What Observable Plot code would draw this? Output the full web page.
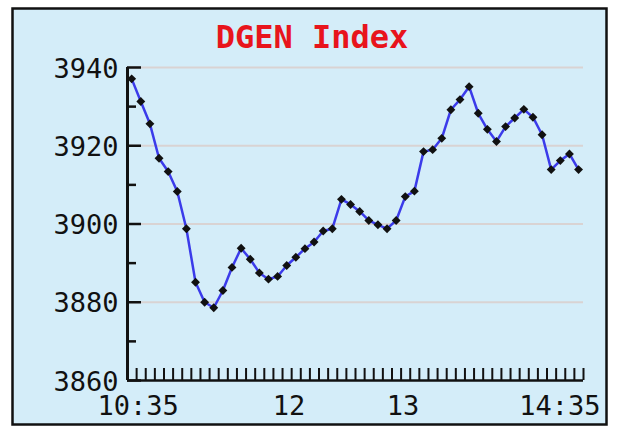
<!DOCTYPE html>
<html><head><meta charset="utf-8">
<script src="https://cdn.jsdelivr.net/npm/d3@7"></script>
<script src="https://cdn.jsdelivr.net/npm/@observablehq/plot@0.6"></script>
<style>body{margin:0;background:#fff}</style>
</head><body><div id="chart"></div>
<script>
const title = "DGEN Index";
const values = [
  3937.1, 3931.3, 3925.6, 3916.8, 3913.4, 3908.3, 3898.8, 3885.1, 3880.0, 3878.6,
  3883.0, 3888.9, 3893.8, 3891.0, 3887.5, 3885.9, 3886.6, 3889.4, 3891.5, 3893.7,
  3895.4, 3898.2, 3898.8, 3906.3, 3905.0, 3903.2, 3900.9, 3899.8, 3898.8, 3900.9,
  3907.0, 3908.4, 3918.5, 3919.0, 3921.9, 3929.2, 3931.8, 3935.1, 3928.3, 3924.2,
  3921.1, 3924.9, 3927.1, 3929.3, 3927.3, 3922.8, 3913.9, 3916.2, 3917.9, 3913.9
];
const firstMinute = 2.2;      // minutes after 10:35 of the first sample
const stepMinutes = 4.8;      // sample spacing
const yMajorTicks = [3860, 3880, 3900, 3920, 3940];
const yMinorTicks = [3870, 3890, 3910, 3930];
const xLabelMinutes = [0, 85, 145, 240];
const xLabels = ["10:35", "12", "13", "14:35"];

const data = values.map((v, i) => ({t: firstMinute + stepMinutes * i, v}));
const xTicks = d3.range(0, 51).map(i => i * stepMinutes);
const labelOf = d => xLabels[xLabelMinutes.indexOf(d)];

const frameMark = () => {
  const r = document.createElementNS("http://www.w3.org/2000/svg", "rect");
  r.setAttribute("x", 12.5); r.setAttribute("y", 8.5);
  r.setAttribute("width", 594); r.setAttribute("height", 416);
  r.setAttribute("fill", "#d4edf9"); r.setAttribute("stroke", "#111");
  r.setAttribute("stroke-width", 2.5);
  return r;
};

const chart = Plot.plot({
  width: 620, height: 435,
  marginLeft: 127, marginRight: 37, marginTop: 67, marginBottom: 55,
  x: {domain: [0, 240], axis: null, label: null},
  y: {domain: [3860, 3940], axis: null, label: null},
  style: {fontFamily: "DejaVu Sans Mono", fontSize: "27px", background: "white", color: "#111"},
  marks: [
    frameMark,
    Plot.ruleY(yMajorTicks.slice(1), {stroke: "#d9d3d3", strokeWidth: 2}),
    Plot.line(data, {x: "t", y: "v", stroke: "#3b3bea", strokeWidth: 2.5}),
    Plot.dot(data, {x: "t", y: "v", symbol: "diamond2", r: 4, fill: "#111"}),
    Plot.ruleX([0], {stroke: "#111", strokeWidth: 3}),
    Plot.ruleY([3860], {stroke: "#111", strokeWidth: 2.5}),
    Plot.axisY(yMajorTicks, {anchor: "left", label: null, tickSize: -14, strokeWidth: 2.5, stroke: "#111", fill: "none"}),
    Plot.axisY(yMinorTicks, {anchor: "left", label: null, tickSize: -9, strokeWidth: 2.5, stroke: "#111", fill: "none"}),
    Plot.axisY(yMajorTicks, {anchor: "left", label: null, tickSize: 0, tickPadding: 9, dy: 1.5, fontSize: 27, fill: "#111", tickFormat: d3.format("d")}),
    Plot.axisX(xTicks, {anchor: "bottom", label: null, tickSize: -12, strokeWidth: 2, stroke: "#111", fill: "none"}),
    Plot.axisX(xLabelMinutes.slice(0, 1), {anchor: "bottom", label: null, tickSize: 0, tickPadding: 15, textAnchor: "start", dx: -30, fontSize: 27, fill: "#111", tickFormat: labelOf}),
    Plot.axisX(xLabelMinutes.slice(1, 3), {anchor: "bottom", label: null, tickSize: 0, tickPadding: 15, fontSize: 27, fill: "#111", tickFormat: labelOf}),
    Plot.axisX(xLabelMinutes.slice(3), {anchor: "bottom", label: null, tickSize: 0, tickPadding: 15, textAnchor: "end", dx: 17, fontSize: 27, fill: "#111", tickFormat: labelOf}),
    Plot.text([title], {frameAnchor: "top", dx: -43.5, dy: -30, lineAnchor: "middle", fill: "#e8141c", fontWeight: "bold", fontSize: 32, fontFamily: "DejaVu Sans Mono"})
  ]
});
document.getElementById("chart").appendChild(chart);
</script>
</body></html>
